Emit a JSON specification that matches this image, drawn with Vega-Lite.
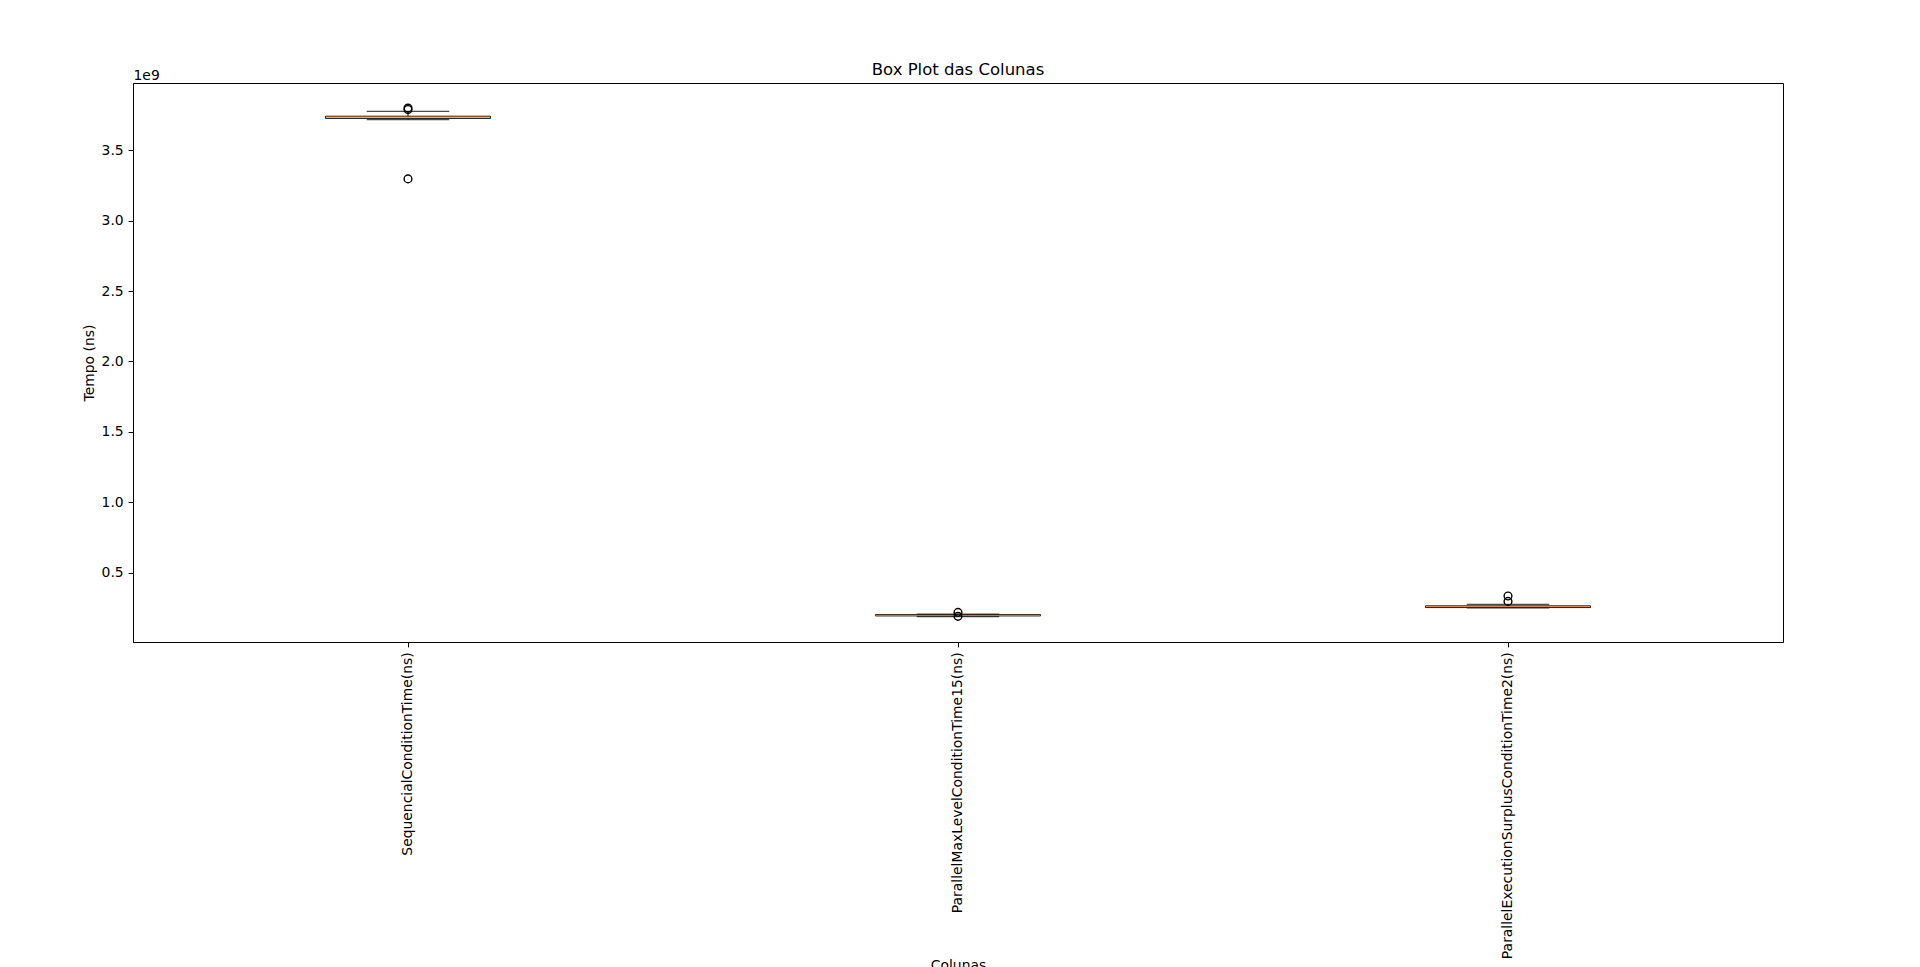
{
  "$schema": "https://vega.github.io/schema/vega-lite/v6.json",
  "width": 1650,
  "height": 559,
  "autosize": {"type": "none"},
  "padding": {"left": 133, "top": 83, "right": 137, "bottom": 325},
  "background": "white",
  "title": {"text": "Box Plot das Colunas", "font": "DejaVu Sans", "fontSize": 16.5, "fontWeight": "normal", "color": "black", "anchor": "middle", "offset": -10},
  "config": {
    "view": {"stroke": "black", "strokeWidth": 1},
    "axis": {"labelFont": "DejaVu Sans", "titleFont": "DejaVu Sans", "labelColor": "black", "titleColor": "black", "tickColor": "black", "domainColor": "black", "grid": false, "labelFontSize": 13.9, "titleFontSize": 13.9, "titleFontWeight": "normal", "tickSize": 4.9, "labelPadding": 4.9, "labelLimit": 0}
  },
  "datasets": {
    "boxes": [
      {"col": "SequencialConditionTime(ns)", "lower": 3718000000, "q1": 3727000000, "median": 3735000000, "q3": 3742000000, "upper": 3777000000},
      {"col": "ParallelMaxLevelConditionTime15(ns)", "lower": 0.188e9, "q1": 0.193e9, "median": 0.197e9, "q3": 0.202e9, "upper": 0.205e9},
      {"col": "ParallelExecutionSurplusConditionTime2(ns)", "lower": 0.250e9, "q1": 0.252e9, "median": 0.258e9, "q3": 0.264e9, "upper": 0.275e9}
    ],
    "outliers": [
      {"col": "SequencialConditionTime(ns)", "value": 3.790e9},
      {"col": "SequencialConditionTime(ns)", "value": 3.800e9},
      {"col": "SequencialConditionTime(ns)", "value": 3.297e9},
      {"col": "ParallelMaxLevelConditionTime15(ns)", "value": 0.218e9},
      {"col": "ParallelMaxLevelConditionTime15(ns)", "value": 0.190e9},
      {"col": "ParallelExecutionSurplusConditionTime2(ns)", "value": 0.334e9},
      {"col": "ParallelExecutionSurplusConditionTime2(ns)", "value": 0.296e9}
    ]
  },
  "layer": [
    {
      "encoding": {
        "x": {
          "field": "col", "type": "nominal",
          "sort": ["SequencialConditionTime(ns)", "ParallelMaxLevelConditionTime15(ns)", "ParallelExecutionSurplusConditionTime2(ns)"],
          "scale": {"type": "band", "paddingInner": 0, "paddingOuter": 0},
          "axis": {"title": "Colunas", "labelAngle": 270, "orient": "bottom", "titleY": 316, "titleBaseline": "top"}
        }
      },
      "layer": [
        {
          "data": {"name": "boxes"},
          "mark": {"type": "rule", "color": "black", "strokeWidth": 1},
          "encoding": {
            "y": {"field": "lower", "type": "quantitative", "scale": {"domain": [7500000, 3978000000], "nice": false, "zero": false},
              "axis": {"title": "Tempo (ns)", "values": [500000000, 1000000000, 1500000000, 2000000000, 2500000000, 3000000000, 3500000000], "labelExpr": "format(datum.value/1e9, '.1f')", "titlePadding": 5}},
            "y2": {"field": "q1"}
          }
        },
        {
          "data": {"name": "boxes"},
          "mark": {"type": "rule", "color": "black", "strokeWidth": 1},
          "encoding": {
            "y": {"field": "q3", "type": "quantitative", "title": "Tempo (ns)"},
            "y2": {"field": "upper"}
          }
        },
        {
          "data": {"name": "boxes"},
          "mark": {"type": "tick", "color": "black", "size": 82.5, "thickness": 1.2},
          "encoding": {"y": {"field": "lower", "type": "quantitative", "title": "Tempo (ns)"}}
        },
        {
          "data": {"name": "boxes"},
          "mark": {"type": "tick", "color": "black", "size": 82.5, "thickness": 1.2},
          "encoding": {"y": {"field": "upper", "type": "quantitative", "title": "Tempo (ns)"}}
        },
        {
          "data": {"name": "boxes"},
          "mark": {"type": "bar", "filled": false, "stroke": "black", "strokeWidth": 1, "width": {"band": 0.3}},
          "encoding": {
            "y": {"field": "q1", "type": "quantitative", "title": "Tempo (ns)"},
            "y2": {"field": "q3"}
          }
        },
        {
          "data": {"name": "boxes"},
          "mark": {"type": "tick", "color": "#ff7f0e", "size": 165, "thickness": 1.2},
          "encoding": {"y": {"field": "median", "type": "quantitative", "title": "Tempo (ns)"}}
        },
        {
          "data": {"name": "outliers"},
          "mark": {"type": "point", "shape": "circle", "filled": false, "stroke": "black", "strokeWidth": 1.4, "size": 60, "opacity": 1},
          "encoding": {"y": {"field": "value", "type": "quantitative", "title": "Tempo (ns)"}}
        }
      ]
    },
    {
      "data": {"name": "boxes"},
      "mark": {"type": "rule", "opacity": 0},
      "encoding": {
        "x": {
          "field": "col", "type": "nominal",
          "sort": ["SequencialConditionTime(ns)", "ParallelMaxLevelConditionTime15(ns)", "ParallelExecutionSurplusConditionTime2(ns)"],
          "scale": {"type": "band", "paddingInner": 0, "paddingOuter": 0},
          "axis": {"orient": "top", "title": "1e9", "labels": false, "ticks": false, "domain": false, "titleAnchor": "start", "titleAlign": "left", "titleX": 0, "titleY": -4, "titleBaseline": "alphabetic", "titleFontSize": 13.9}
        }
      }
    }
  ],
  "resolve": {"axis": {"x": "independent"}}
}
